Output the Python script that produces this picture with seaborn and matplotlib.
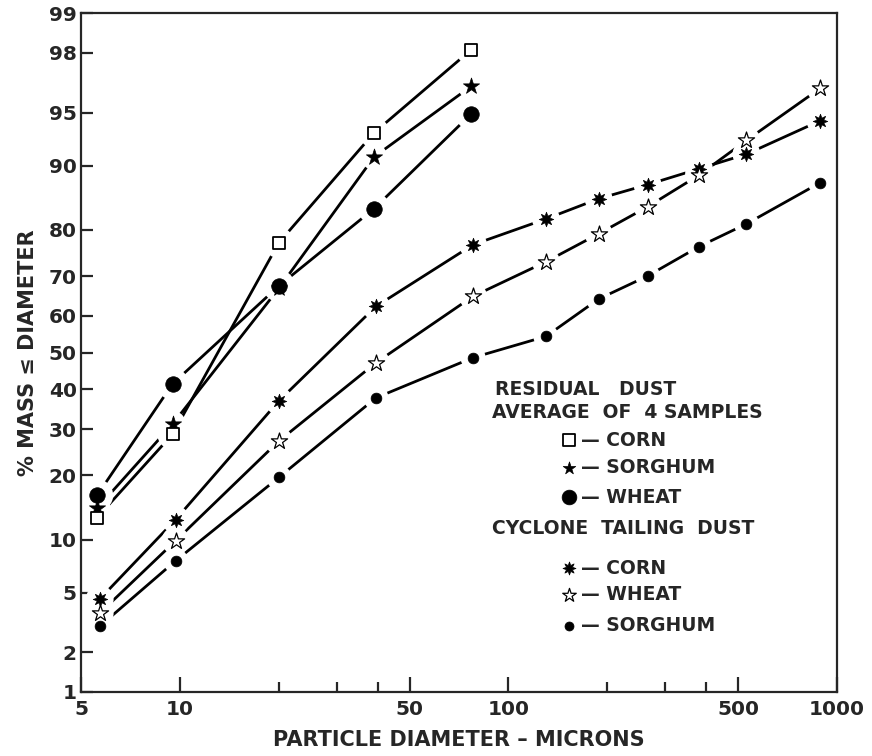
import numpy as np
import matplotlib
matplotlib.use('Agg')
import matplotlib.pyplot as plt
import seaborn as sns
from statistics import NormalDist

# particle diameter (microns) and % mass <= diameter
residual_x = [5.6, 9.5, 20, 39, 77]
residual_corn = [12.9, 28.8, 77.4, 93.4, 98.1]
residual_sorghum = [14.3, 31.2, 67.0, 91.0, 96.6]
residual_wheat = [16.4, 41.5, 67.6, 83.8, 94.9]

cyclone_x = [5.7, 9.7, 20, 39.5, 78, 130, 188, 265, 380, 530, 890]
cyclone_corn = [4.55, 12.6, 37.0, 62.4, 77.0, 82.0, 85.4, 87.5, 89.6, 91.3, 94.4]
cyclone_wheat = [3.7, 9.85, 27.2, 47.2, 65.0, 73.3, 79.2, 84.1, 88.8, 92.7, 96.5]
cyclone_sorghum = [3.03, 7.67, 19.6, 37.8, 48.6, 54.4, 64.3, 70.0, 76.6, 81.1, 87.8]

x_major = [5, 10, 50, 100, 500, 1000]
x_minor = [20, 30, 40, 200, 300, 400]
y_ticks = [1, 2, 5, 10, 20, 30, 40, 50, 60, 70, 80, 90, 95, 98, 99]

nd = NormalDist()
_ppf = np.vectorize(nd.inv_cdf, otypes=[float])
_cdf = np.vectorize(nd.cdf, otypes=[float])


def to_probit(p):
    # probability paper: percent -> standard normal quantile
    p = np.clip(np.asarray(p, dtype=float) / 100.0, 1e-7, 1 - 1e-7)
    return _ppf(p)


def from_probit(z):
    return _cdf(np.asarray(z, dtype=float)) * 100.0


sns.set_style("ticks")
plt.rcParams['font.family'] = ['DejaVu Sans']
plt.rcParams['font.weight'] = 'bold'

fig = plt.figure(figsize=(8.72, 7.56), dpi=100)
ax = fig.add_axes([0.0929, 0.0847, 0.867, 0.898])
ax.set_xscale('log')
ax.set_yscale('function', functions=(to_probit, from_probit))

star8 = (8, 1, 0)
# s = marker area (pt^2), halo = white gap diameter (pt)
styles = {
    'res_corn': dict(marker='s', s=85, color='white', edgecolor='black', linewidth=1.3, halo=22),
    'res_sorghum': dict(marker='*', s=150, color='black', edgecolor='black', linewidth=0.5, halo=19),
    'res_wheat': dict(marker='o', s=125, color='black', edgecolor='black', linewidth=0.5, halo=23),
    'cyc_corn': dict(marker=star8, s=110, color='black', edgecolor='black', linewidth=0.5, halo=20),
    'cyc_wheat': dict(marker='*', s=150, color='white', edgecolor='black', linewidth=0.9, halo=20),
    'cyc_sorghum': dict(marker='o', s=60, color='black', edgecolor='black', linewidth=0.5, halo=18),
}
series = [
    ('res_corn', residual_x, residual_corn),
    ('res_sorghum', residual_x, residual_sorghum),
    ('res_wheat', residual_x, residual_wheat),
    ('cyc_corn', cyclone_x, cyclone_corn),
    ('cyc_wheat', cyclone_x, cyclone_wheat),
    ('cyc_sorghum', cyclone_x, cyclone_sorghum),
]

# lines first, then a white halo so the line stops short of each marker
for key, xs, ys in series:
    sns.lineplot(x=xs, y=ys, color='black', linewidth=2.0, estimator=None,
                 sort=False, ax=ax, zorder=1.5)
for key, xs, ys in series:
    st = styles[key]
    ax.scatter(xs, ys, s=st['halo'] ** 2, color='white', edgecolor='none',
               linewidths=0, zorder=3)
for key, xs, ys in series:
    st = {k: v for k, v in styles[key].items() if k != 'halo'}
    sns.scatterplot(x=xs, y=ys, ax=ax, zorder=4 if key == 'res_sorghum' else 5, **st)

ax.set_xlim(5, 1000)
ax.set_ylim(1, 99)

ax.set_xticks(x_major)
ax.set_xticklabels([str(v) for v in x_major])
ax.set_xticks(x_minor, minor=True)
ax.set_xticklabels([], minor=True)
ax.set_yticks(y_ticks)
ax.set_yticklabels([str(v) for v in y_ticks])
ax.yaxis.set_minor_locator(matplotlib.ticker.NullLocator())

ax.tick_params(axis='x', which='major', direction='in', length=11, width=1.6,
               labelsize=14.5, pad=6, top=False)
ax.tick_params(axis='x', which='minor', direction='in', length=7, width=1.6, top=False)
ax.tick_params(axis='y', which='major', direction='in', length=8.5, width=1.6,
               labelsize=14.5, pad=3, right=False)
for sp in ax.spines.values():
    sp.set_linewidth(1.6)
    sp.set_visible(True)
    sp.set_zorder(10)

ax.set_xlabel('PARTICLE DIAMETER – MICRONS', fontsize=15, fontweight='bold', labelpad=8)
ax.set_ylabel('% MASS ≤ DIAMETER', fontsize=15, fontweight='bold', labelpad=8)

# legend block drawn as text with sample markers
tr = ax.transAxes
hdr = dict(transform=tr, fontsize=13.5, fontweight='bold', va='center', ha='left')
ax.text(0.548, 0.446, 'RESIDUAL   DUST', **hdr)
ax.text(0.544, 0.412, 'AVERAGE  OF  4 SAMPLES', **hdr)
ax.text(0.544, 0.2415, 'CYCLONE  TAILING  DUST', **hdr)

rows = [
    ('res_corn', 0.371, 'CORN', 0.9),
    ('res_sorghum', 0.330, 'SORGHUM', 0.6),
    ('res_wheat', 0.287, 'WHEAT', 0.9),
    ('cyc_corn', 0.1826, 'CORN', 0.8),
    ('cyc_wheat', 0.1429, 'WHEAT', 0.7),
    ('cyc_sorghum', 0.0972, 'SORGHUM', 0.7),
]
for key, yy, label, scale in rows:
    st = styles[key]
    ax.scatter([0.645], [yy], transform=tr, s=st['s'] * scale, marker=st['marker'],
               color=st['color'], edgecolor=st['edgecolor'], linewidths=st['linewidth'],
               zorder=6, clip_on=False)
    ax.text(0.662, yy, '— ' + label, **hdr)

fig.savefig('out.png', dpi=100)
